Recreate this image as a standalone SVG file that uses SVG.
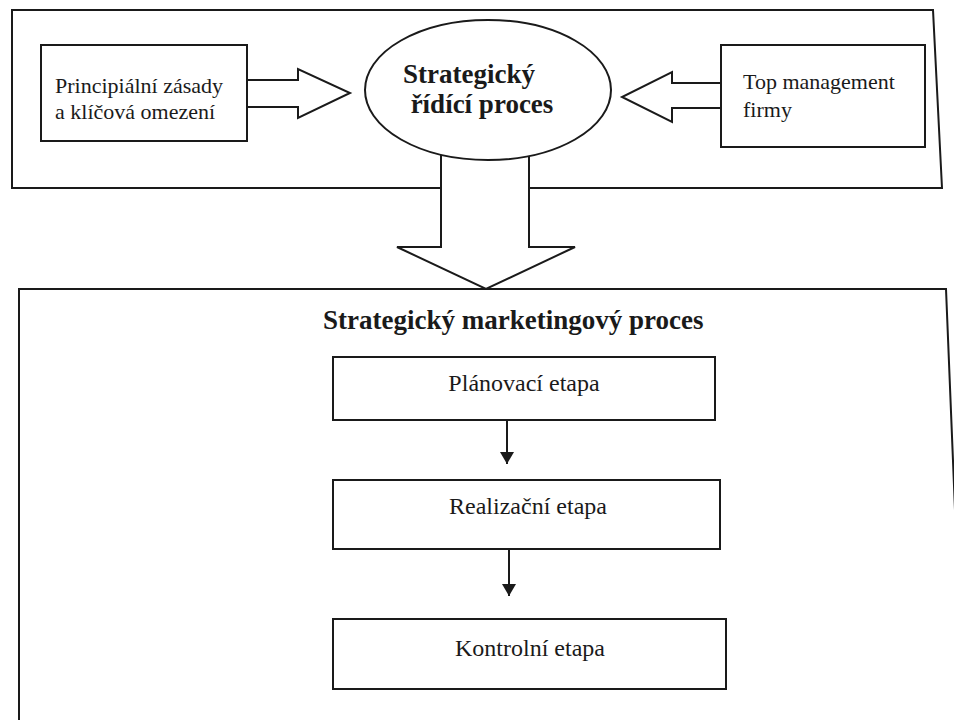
<svg xmlns="http://www.w3.org/2000/svg" width="954" height="720" viewBox="0 0 954 720">
  <style>
    .ln { fill: none; stroke: #1a1a1a; stroke-width: 2; stroke-linejoin: miter; }
    .bx { fill: #ffffff; stroke: #1a1a1a; stroke-width: 2; }
    .t { font-family: "Liberation Serif", "Times New Roman", serif; font-size: 22px; fill: #1a1a1a; }
    .ts { font-size: 24px; }
    .tb { font-family: "Liberation Serif", "Times New Roman", serif; font-size: 27px; font-weight: bold; fill: #1a1a1a; }
    .c { text-anchor: middle; }
  </style>
  <defs>
    <marker id="head" viewBox="0 0 12 14" refX="12" refY="7" markerWidth="12" markerHeight="14" markerUnits="userSpaceOnUse" orient="auto">
      <path d="M0,0 L12,7 L0,14 Z" fill="#1a1a1a"/>
    </marker>
  </defs>
  <rect width="954" height="720" fill="#ffffff"/>

  <!-- upper frame, open where the down arrow leaves it -->
  <g id="frame-top">
    <path class="ln" d="M441,188 L12,188 L12,10 L933,10 L942,188 L529,188"/>
  </g>

  <!-- lower frame, running off the bottom edge -->
  <g id="frame-bottom">
    <path class="ln" d="M19,730 L19,289 L946,289 L955,510"/>
  </g>

  <g id="connectors">
    <!-- block arrow: principles -> strategic process -->
    <path class="bx" d="M247,80 L298,80 L298,69 L350,93 L298,118 L298,107 L247,107"/>
    <!-- block arrow: top management -> strategic process -->
    <path class="bx" d="M721,83 L672,83 L672,72 L622,97 L672,122 L672,108 L721,108"/>
    <!-- block arrow: strategic process -> marketing process -->
    <path class="bx" d="M441,150 L441,247 L397,247 L486,289 L575,247 L529,247 L529,150"/>
    <!-- stage arrows -->
    <line class="ln" x1="507" y1="420" x2="507" y2="464" marker-end="url(#head)"/>
    <line class="ln" x1="509" y1="549" x2="509" y2="596" marker-end="url(#head)"/>
  </g>

  <g id="node-principles">
    <rect class="bx" x="41" y="45" width="206" height="96"/>
    <text class="t" x="55" y="93">Principiální zásady</text>
    <text class="t" x="55" y="119">a klíčová omezení</text>
  </g>

  <g id="node-management">
    <rect class="bx" x="721" y="45" width="204" height="102"/>
    <text class="t" x="743" y="89">Top management</text>
    <text class="t" x="743" y="117">firmy</text>
  </g>

  <g id="node-strategic">
    <ellipse class="bx" cx="488" cy="90" rx="123" ry="70"/>
    <text class="tb c" x="469" y="83">Strategický</text>
    <text class="tb c" x="482" y="113">řídící proces</text>
  </g>

  <g id="node-marketing-title">
    <text class="tb" x="323" y="329">Strategický marketingový proces</text>
  </g>

  <g id="node-planning">
    <rect class="bx" x="333" y="357" width="382" height="63"/>
    <text class="t ts c" x="524" y="391">Plánovací etapa</text>
  </g>

  <g id="node-realization">
    <rect class="bx" x="333" y="480" width="387" height="69"/>
    <text class="t ts c" x="528" y="514">Realizační etapa</text>
  </g>

  <g id="node-control">
    <rect class="bx" x="333" y="619" width="393" height="70"/>
    <text class="t ts c" x="530" y="656">Kontrolní etapa</text>
  </g>
</svg>
